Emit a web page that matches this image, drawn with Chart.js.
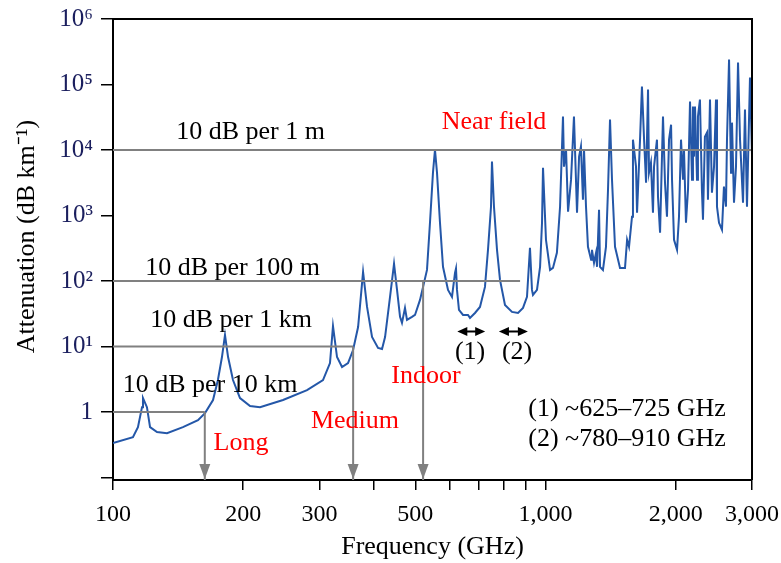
<!DOCTYPE html>
<html><head><meta charset="utf-8">
<script src="https://cdn.jsdelivr.net/npm/chart.js@4"></script>
<style>html,body{margin:0;padding:0;background:#fff;}canvas{display:block;}</style>
</head><body>
<canvas id="c" width="781" height="563"></canvas>
<script>
// ---- data: specific attenuation spectrum ----
const freqGHz = [
  100,111.2,114.2,116.7,117.3,119.8,121.8,126.4,133.3,145.1,
  157.2,163.2,170.3,174.8,178.6,181.5,184.5,189.4,196.6,207.4,
  218.7,247.2,280.9,305.8,317.4,322.5,329.5,338.4,349.4,358.9,
  368.6,378.5,386.6,397.0,409.9,418.7,425.5,436.9,446.3,453.5,
  460.8,465.6,473.1,478.2,491.1,499.0,512.5,523.5,531.9,540.4,
  549.1,555.0,561.0,570.0,579.2,594.9,607.6,617.4,620.7,624.0,
  630.6,644.3,661.6,668.7,686.7,705.2,724.2,735.9,747.8,751.7,
  759.8,772.1,784.5,805.6,836.2,863.4,886.7,905.7,920.2,930.1,
  935.1,955.2,971.0,981.1,986.3,1002,1024,1040,1062,1080,
  1097,1103,1115,1127,1145,1163,1182,1195,1207,1220,
  1227,1240,1253,1274,1280,1294,1308,1315,1329,1336,
  1357,1379,1394,1409,1424,1447,1486,1526,1543,1559,
  1584,1592,1618,1627,1653,1670,1689,1707,1725,1734,
  1752,1771,1781,1809,1819,1839,1868,1888,1908,1929,
  1950,1960,1981,2013,2034,2056,2078,2089,2111,2134,
  2157,2180,2191,2203,2215,2239,2250,2274,2298,2311,
  2335,2361,2373,2399,2424,2451,2477,2490,2517,2557,
  2584,2612,2626,2655,2683,2697,2726,2755,2785,2815,
  2860,2890,2921,2968,3000
];
const attenuation = [
  0.336,0.415,0.59,1.19,1.64,1.19,0.59,0.495,0.477,0.59,
  0.755,0.965,1.53,3.09,6.93,15.0,6.93,3.09,1.64,1.235,
  1.19,1.53,2.17,3.09,5.61,20.6,6.93,4.88,5.61,8.87,
  19.9,138,40.3,14.0,9.52,9.19,14.0,57.3,183,73.3,
  28.4,23.0,38.9,25.5,28.4,30.4,51.6,93.8,148,776,
  4510,10100,4510,776,165,73.3,57.3,133,155,73.3,
  36.3,30.4,30.4,27.4,32.6,40.3,81.5,300,1364,6650,
  1364,300,104,43.3,33.8,32.6,38.9,57.3,322,73.3,
  61.5,73.3,165,776,5380,427,148,159,270,1364,
  32400,5570,10100,1143,3530,32400,1104,7930,11300,1745,
  10100,1364,333,211,300,190,270,165,1227,165,
  148,333,2480,29200,3530,333,159,159,427,333,
  959,14400,5570,1104,14400,93200,14400,3170,83900,4510,
  6420,1104,5570,14400,1938,546,32400,3170,959,14400,
  24400,3530,427,300,959,14400,3530,10100,776,2480,
  55000,3530,46100,7930,46100,3530,32400,59000,2480,863,
  16000,18500,1745,59000,2230,5570,59000,1364,776,607,
  2760,1364,14400,241000,4510,26200,1570,5570,217000,14400,
  1570,41500,1364,128000,8510
];

// reference levels (10 dB per 10 km, 1 km, 100 m, 1 m)
const refLevels = [1, 10, 100, 10000];
const refLineEndGHz = [163, 359, 873, 3000];
const refLabels = ['10 dB per 10 km', '10 dB per 1 km', '10 dB per 100 m', '10 dB per 1 m'];
// down arrows (frequency, starting level)
const arrowGHz = [163, 359, 521];
const arrowLevel = [1, 10, 100];
// window ranges
const windowRanges = [[625, 725], [780, 910]];
const windowNames = ['(1)', '(2)'];
const windowLegend = ['(1) ~625\u2013725 GHz', '(2) ~780\u2013910 GHz'];
const rangeLabels = ['Long', 'Medium', 'Indoor', 'Near field'];

// ticks
const xTickValues = [100,200,300,400,500,600,700,800,900,1000,2000,3000];
const xTickLabels = ['100','200','300','','500','','','','','1,000','2,000','3,000'];
const yTickValues = [0.1,1,10,100,1000,10000,100000,1000000];
const yTickLabels = ['','1','10\u00B9','10\u00B2','10\u00B3','10\u2074','10\u2075','10\u2076'];
const yTitle = 'Attenuation (dB km\u207B\u00B9)';
const xTitle = 'Frequency (GHz)';

// ---- drawing ----
const FONT = "'Liberation Serif','Times New Roman',serif";
const Y_MIN = 0.092, Y_MAX = 1e6, X_MIN = 100, X_MAX = 3000;
const GRAY = '#808080';

const datasets = [];
datasets.push({
  data: freqGHz.map((f, i) => ({x: f, y: attenuation[i]})),
  borderColor: '#2457a8', borderWidth: 2, pointRadius: 0, tension: 0, order: 2
});
refLevels.forEach((lv, i) => {
  datasets.push({
    data: [{x: X_MIN, y: lv}, {x: refLineEndGHz[i], y: lv}],
    borderColor: GRAY, borderWidth: 2, pointRadius: 0, order: 1
  });
});
arrowGHz.forEach((f, i) => {
  datasets.push({
    data: [{x: f, y: arrowLevel[i]}, {x: f, y: Y_MIN}],
    borderColor: GRAY, borderWidth: 2, pointRadius: 0, order: 1
  });
});

// text annotations anchored in data space (freq, attenuation)
const notes = [
  {t: refLabels[3], f: 208, a: 18800, c: '#000'},
  {t: refLabels[2], f: 189, a: 158, c: '#000'},
  {t: refLabels[1], f: 187.5, a: 25.4, c: '#000'},
  {t: refLabels[0], f: 167.6, a: 2.58, c: '#000'},
  {t: rangeLabels[0], f: 197.6, a: 0.336, c: '#ff0000'},
  {t: rangeLabels[1], f: 362.6, a: 0.73, c: '#ff0000'},
  {t: rangeLabels[2], f: 529, a: 3.55, c: '#ff0000'},
  {t: rangeLabels[3], f: 760, a: 26700, c: '#ff0000'},
  {t: windowNames[0], f: 669, a: 8.24, c: '#000'},
  {t: windowNames[1], f: 859, a: 8.24, c: '#000'},
  {t: windowLegend[0], f: 912, a: 1.11, c: '#000', align: 'left'},
  {t: windowLegend[1], f: 912, a: 0.387, c: '#000', align: 'left'}
];

const overlay = {
  id: 'overlay',
  afterDatasetsDraw(chart) {
    const {ctx, chartArea: ar, scales: {x, y}} = chart;
    ctx.save();
    // frame top / right
    ctx.strokeStyle = '#000'; ctx.lineWidth = 2;
    ctx.beginPath();
    ctx.moveTo(ar.left, ar.top); ctx.lineTo(ar.right, ar.top); ctx.lineTo(ar.right, ar.bottom);
    ctx.stroke();
    // arrowheads at axis
    ctx.fillStyle = GRAY;
    arrowGHz.forEach(f => {
      const px = x.getPixelForValue(f), pb = ar.bottom - 1;
      ctx.beginPath();
      ctx.moveTo(px - 5.5, pb - 15); ctx.lineTo(px + 5.5, pb - 15); ctx.lineTo(px, pb);
      ctx.closePath(); ctx.fill();
    });
    // double arrows for windows
    ctx.fillStyle = '#000'; ctx.strokeStyle = '#000'; ctx.lineWidth = 2;
    windowRanges.forEach(([f1, f2]) => {
      const p1 = x.getPixelForValue(f1), p2 = x.getPixelForValue(f2), py = y.getPixelForValue(17);
      ctx.beginPath(); ctx.moveTo(p1 + 6, py); ctx.lineTo(p2 - 6, py); ctx.stroke();
      ctx.beginPath(); ctx.moveTo(p1, py); ctx.lineTo(p1 + 10, py - 4.5); ctx.lineTo(p1 + 10, py + 4.5); ctx.closePath(); ctx.fill();
      ctx.beginPath(); ctx.moveTo(p2, py); ctx.lineTo(p2 - 10, py - 4.5); ctx.lineTo(p2 - 10, py + 4.5); ctx.closePath(); ctx.fill();
    });
    // texts
    ctx.textBaseline = 'middle';
    notes.forEach(n => {
      ctx.font = '26px ' + FONT;
      ctx.fillStyle = n.c;
      ctx.textAlign = n.align || 'center';
      ctx.fillText(n.t, x.getPixelForValue(n.f), y.getPixelForValue(n.a));
    });
    // y axis title (slightly above the axis centre, as in the figure)
    ctx.save();
    ctx.translate(27, (ar.top + ar.bottom) / 2 - 13);
    ctx.rotate(-Math.PI / 2);
    ctx.font = '26px ' + FONT; ctx.fillStyle = '#000';
    ctx.textAlign = 'center'; ctx.textBaseline = 'middle';
    ctx.fillText(yTitle, 0, 0);
    ctx.restore();
    ctx.restore();
  }
};

new Chart(document.getElementById('c'), {
  type: 'line',
  data: {datasets},
  options: {
    responsive: false, animation: false, devicePixelRatio: 1,
    layout: {padding: {top: 19, right: 29, bottom: 0, left: 0}},
    plugins: {legend: {display: false}, tooltip: {enabled: false}},
    scales: {
      x: {
        type: 'logarithmic', min: X_MIN, max: X_MAX,
        afterBuildTicks: s => { s.ticks = xTickValues.map(v => ({value: v})); },
        afterFit: s => { s.height = 83; s.paddingLeft = 0; s.paddingRight = 0; },
        ticks: {
          autoSkip: false, maxRotation: 0, padding: 10, color: '#000',
          font: {family: FONT, size: 24},
          callback: (v, i) => xTickLabels[i]
        },
        grid: {drawOnChartArea: false, drawTicks: true, tickLength: 10, color: '#000', lineWidth: 1.5},
        border: {display: true, color: '#000', width: 2},
        title: {display: true, text: xTitle, color: '#000',
          font: {family: FONT, size: 26}, padding: {top: 0, bottom: 0}}
      },
      y: {
        type: 'logarithmic', min: Y_MIN, max: Y_MAX,
        afterBuildTicks: s => { s.ticks = yTickValues.map(v => ({value: v})); },
        afterFit: s => { s.width = 113; s.paddingTop = 0; s.paddingBottom = 0; },
        ticks: {
          autoSkip: false, padding: 8, color: '#1b1f5e',
          font: {family: FONT, size: 25},
          callback: (v, i) => yTickLabels[i]
        },
        grid: {drawOnChartArea: false, drawTicks: true, tickLength: 12, color: '#000', lineWidth: 1.5},
        border: {display: true, color: '#000', width: 2},
        title: {display: false}
      }
    }
  },
  plugins: [overlay]
});
</script>
</body></html>
